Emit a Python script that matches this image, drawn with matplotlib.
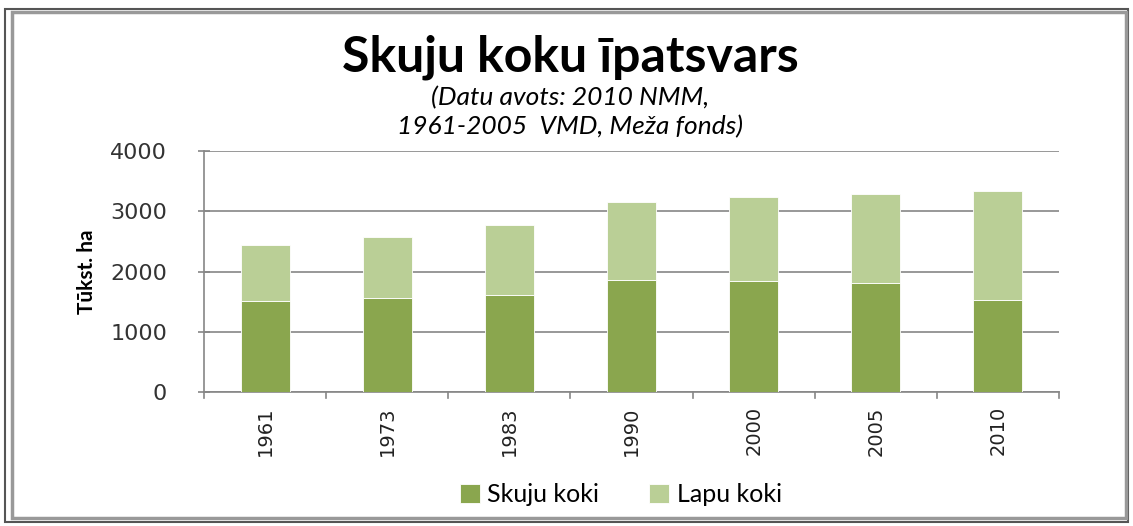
import matplotlib
matplotlib.use('Agg')
import matplotlib.pyplot as plt
from matplotlib.patches import Rectangle
import numpy as np

years = ['1961', '1973', '1983', '1990', '2000', '2005', '2010']
skuju = [1520, 1555, 1615, 1868, 1852, 1818, 1537]
lapu_total = [2440, 2570, 2770, 3156, 3233, 3288, 3338]
lapu = [t - s for t, s in zip(lapu_total, skuju)]

dark = '#8aa64e'
light = '#bacf96'

fig = plt.figure(figsize=(11.33, 5.26), dpi=100)
ax = fig.add_axes([204 / 1133, 1 - 392.3 / 526, 855 / 1133, 241.3 / 526])

x = np.arange(len(years))
ax.bar(x, skuju, width=0.4, color=dark, edgecolor='white', linewidth=0.6, label='Skuju koki', zorder=3)
ax.bar(x, lapu, width=0.4, bottom=skuju, color=light, edgecolor='white', linewidth=0.6, label='Lapu koki', zorder=3)

ax.set_xlim(-0.5, len(years) - 0.5)
ax.set_ylim(0, 4000)
ax.set_yticks([0, 1000, 2000, 3000, 4000])
ax.yaxis.grid(True, color='#868686', linewidth=1.2, zorder=0)
for s in ['top', 'right']:
    ax.spines[s].set_visible(False)
for s in ['left', 'bottom']:
    ax.spines[s].set_color('#868686')
    ax.spines[s].set_linewidth(1.2)

ax.tick_params(axis='y', direction='inout', length=9, width=1.2, color='#868686',
               labelsize=16, labelcolor='#333333', pad=22)
ax.set_yticklabels(['0', '1000', '2000', '3000', '4000'], family='DejaVu Sans')

ax.set_xticks(x)
ax.set_xticklabels(years, rotation=90, fontsize=14, family='DejaVu Sans', color='#222222')
ax.tick_params(axis='x', length=0, pad=10)
# boundary ticks between categories
for b in np.arange(-0.5, len(years), 1.0):
    ax.plot([b, b], [0, -0.025], transform=ax.get_xaxis_transform(), color='#868686',
            linewidth=1.2, clip_on=False)

ax.set_ylabel('Tūkst. ha', fontsize=15, fontweight='bold', family='Lato')
ax.yaxis.set_label_coords((97 - 204) / 855, 0.5)

fig.text(0.503, 0.892, 'Skuju koku īpatsvars', ha='center', va='center', fontsize=36,
         fontweight='bold', family='Lato')
fig.text(0.503, 0.815, '(Datu avots: 2010 NMM,', ha='center', va='center', fontsize=19,
         style='italic', family='Lato')
fig.text(0.503, 0.76, '1961-2005  VMD, Meža fonds)', ha='center', va='center', fontsize=19,
         style='italic', family='Lato')

leg = fig.legend(loc='center', bbox_to_anchor=(0.548, 0.06), ncol=2, frameon=False,
                 handlelength=0.8, handleheight=0.8, handletextpad=0.3,
                 columnspacing=2.0, prop={'family': 'Lato', 'size': 18})

# outer frame
fig.patches.append(Rectangle((5 / 1133, 1 - 522 / 526), 1123 / 1133, 513 / 526,
                             transform=fig.transFigure, fill=False, edgecolor='#555555', linewidth=1.5))
fig.patches.append(Rectangle((12 / 1133, 1 - 518 / 526), 1114 / 1133, 506 / 526,
                             transform=fig.transFigure, fill=False, edgecolor='#999999', linewidth=2.5))

fig.savefig('out.png', dpi=100)
